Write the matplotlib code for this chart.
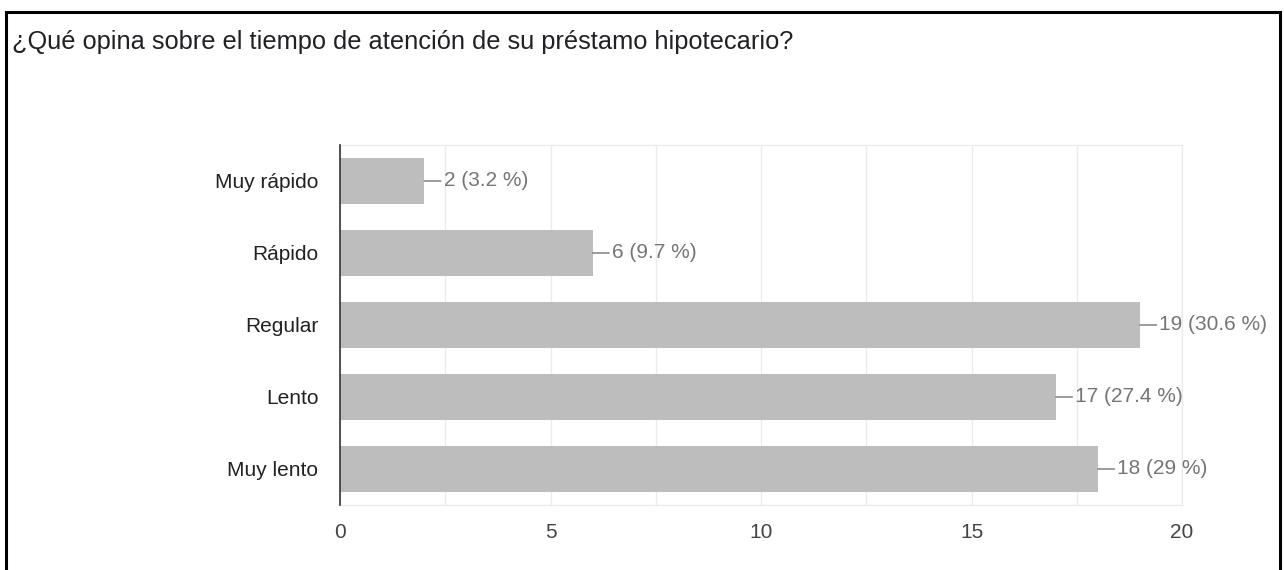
import matplotlib.pyplot as plt
from matplotlib.patches import Rectangle
from matplotlib.ticker import MultipleLocator

# survey answers, top to bottom
categories = ["Muy rápido", "Rápido", "Regular", "Lento", "Muy lento"]
counts = [2, 6, 19, 17, 18]
percents = ["3.2", "9.7", "30.6", "27.4", "29"]
x_ticks = [0, 5, 10, 15, 20]

title = "¿Qué opina sobre el tiempo de atención de su préstamo hipotecario?"

plt.rcParams["font.family"] = ["Liberation Sans", "DejaVu Sans"]

fig = plt.figure(figsize=(12.84, 5.70), dpi=100)

# outer frame of the screenshot
fig.patches.append(
    Rectangle((6 / 1284, -0.05), 1274 / 1284, 1.05 - 12 / 570,
              transform=fig.transFigure, fill=False,
              edgecolor="black", linewidth=2.2)
)

fig.text(12 / 1284, 1 - 42 / 570, title, fontsize=18.3, color="#202124",
         va="center", ha="left")

ax = fig.add_axes([340 / 1284, 1 - 505 / 570, 842 / 1284, 360 / 570])

y = list(range(len(categories)))
ax.barh(y, counts, height=0.64, color="#bdbdbd", zorder=2)

ax.set_xlim(0, 20)
ax.set_ylim(len(categories) - 0.5, -0.5)
ax.set_yticks(y)
ax.set_yticklabels(categories, fontsize=15, color="#222222")
ax.set_xticks(x_ticks)
ax.set_xticklabels([str(t) for t in x_ticks], fontsize=15, color="#444444")
ax.xaxis.set_minor_locator(MultipleLocator(2.5))

ax.grid(axis="x", which="both", color="#ebebeb", linewidth=1, zorder=0)
ax.tick_params(axis="both", which="both", length=0)
ax.tick_params(axis="y", pad=15.5)
ax.tick_params(axis="x", pad=13)

for side in ["top", "bottom", "right"]:
    ax.spines[side].set_color("#ebebeb")
    ax.spines[side].set_linewidth(1)
ax.spines["left"].set_color("#333333")
ax.spines["left"].set_linewidth(1.2)
ax.spines["left"].set_zorder(3)

for i, (c, p) in enumerate(zip(counts, percents)):
    ax.annotate(f"{c} ({p} %)", xy=(c, i), xytext=(14, 0),
                textcoords="offset points", va="center", ha="left",
                fontsize=15, color="#757575", annotation_clip=False,
                arrowprops=dict(arrowstyle="-", color="#757575", lw=1,
                                shrinkA=0, shrinkB=0))

fig.savefig("out.png", dpi=100)
